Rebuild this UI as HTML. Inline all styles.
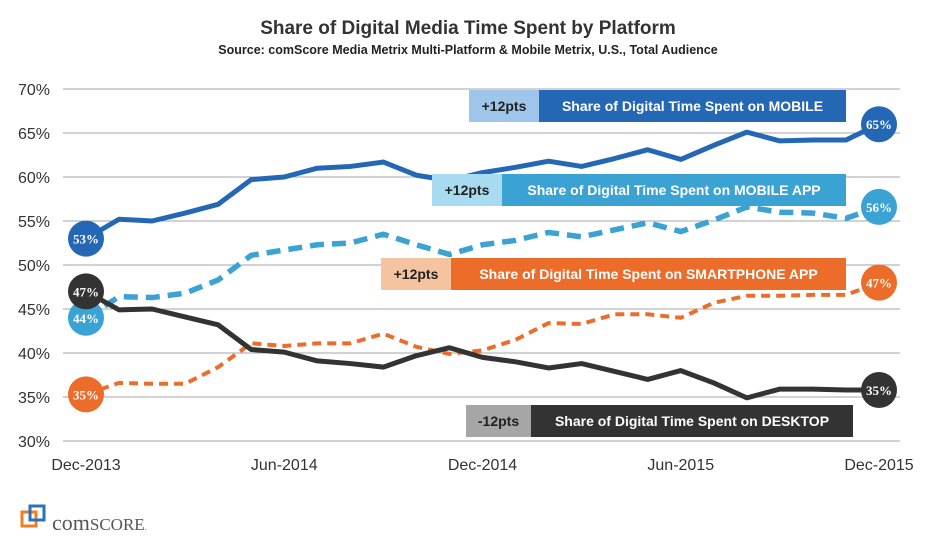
<!DOCTYPE html>
<html><head><meta charset="utf-8"><style>
body{margin:0;background:#fff;width:935px;height:538px;overflow:hidden;font-family:"Liberation Sans",Arial,sans-serif}
</style></head><body>
<svg id="chart" width="935" height="538" xmlns="http://www.w3.org/2000/svg" font-family="Liberation Sans, Arial, sans-serif">
<text x="468" y="34" text-anchor="middle" font-size="19" font-weight="bold" fill="#333">Share of Digital Media Time Spent by Platform</text>
<text x="468" y="54" text-anchor="middle" font-size="12.5" font-weight="bold" fill="#222">Source: comScore Media Metrix Multi-Platform &amp; Mobile Metrix, U.S., Total Audience</text>
<g id="grid"></g><g id="series"></g><g id="labels"></g>
<g>
<rect x="22" y="512" width="14" height="14" fill="none" stroke="#f07f24" stroke-width="3"/>
<rect x="30" y="506" width="14" height="14" fill="none" stroke="#2b73b7" stroke-width="3"/>
<text x="52" y="530" font-family="Liberation Serif, serif" font-size="22" fill="#555">com<tspan font-size="17">SCORE</tspan><tspan font-size="8">.</tspan></text>
</g>
</svg>
<script>
const months = ['Dec-2013','','','','','','Jun-2014','','','','','','Dec-2014','','','','','','Jun-2015','','','','','','Dec-2015'];
const yTicks = [30,35,40,45,50,55,60,65,70];
const mobile = [53,55.2,55.0,55.9,56.9,59.7,60.0,61.0,61.2,61.7,60.2,59.6,60.5,61.1,61.8,61.2,62.1,63.1,62.0,63.6,65.1,64.1,64.2,64.2,66];
const mobileApp = [44,46.4,46.3,46.8,48.3,51.1,51.7,52.3,52.5,53.5,52.3,51.2,52.3,52.8,53.7,53.2,54.0,54.8,53.8,55.1,56.6,56.0,55.9,55.3,56.6];
const smartphoneApp = [35.3,36.6,36.5,36.5,38.4,41.1,40.8,41.1,41.1,42.2,40.7,39.9,40.3,41.5,43.4,43.3,44.4,44.4,44.0,45.7,46.5,46.5,46.6,46.6,48];
const desktop = [47,44.9,45.0,44.1,43.2,40.4,40.1,39.1,38.8,38.4,39.7,40.6,39.5,39.0,38.3,38.8,37.9,37.0,38.0,36.6,34.9,35.9,35.9,35.8,35.8];
const startLabels = ['53%','44%','35%','47%'];
const endLabels = ['65%','56%','47%','35%'];

const NS='http://www.w3.org/2000/svg';
const X=i=>86+i*(879-86)/24;
const Y=v=>89+(70-v)*8.8;
function mk(tag,attrs,parent){const e=document.createElementNS(NS,tag);for(const k in attrs)e.setAttribute(k,attrs[k]);parent.appendChild(e);return e;}
const grid=document.getElementById('grid'),ser=document.getElementById('series'),lab=document.getElementById('labels');
yTicks.forEach(t=>{
  const l=mk('line',{x1:63,x2:900,y1:Y(t),y2:Y(t),stroke:'#a6a6a6','stroke-width':1},grid);
  
  
  const tx=mk('text',{x:50,y:Y(t)+6,'text-anchor':'end','font-size':16,fill:'#333'},grid);
  tx.textContent=t+'%';
  
  
});
months.forEach((m,i)=>{if(!m)return;
  const tx=mk('text',{x:X(i),y:470,'text-anchor':'middle','font-size':16,fill:'#333'},grid);
  tx.textContent=m;
  
  
});
const defs=[
 {d:mobileApp,c:'#3ba3d4',w:5.5,dash:'14 8',name:'mobile-app'},
 {d:smartphoneApp,c:'#ec6c2a',w:4,dash:'9 6',name:'smartphone-app'},
 {d:desktop,c:'#333333',w:5,dash:'',name:'desktop'},
 {d:mobile,c:'#2467b5',w:5,dash:'',name:'mobile'}];
defs.forEach(s=>{
  const p=mk('polyline',{points:s.d.map((v,i)=>X(i)+','+Y(v)).join(' '),fill:'none',stroke:s.c,'stroke-width':s.w,'stroke-dasharray':s.dash,'stroke-linejoin':'round'},ser);
  
  
});
const circ=[[mobile,'#2467b5',0],[mobileApp,'#3ba3d4',1],[smartphoneApp,'#ec6c2a',2],[desktop,'#333333',3]];
circ.forEach(([d,c,k])=>{
  [[0,startLabels[k]],[24,endLabels[k]]].forEach(([i,t])=>{
    const g=mk('g',{},ser);
    
    
    mk('circle',{cx:X(i),cy:Y(d[i]),r:18,fill:c},g);
    const tx=mk('text',{x:X(i),y:Y(d[i])+5,'text-anchor':'middle','font-size':13,'font-weight':'bold','font-family':'Liberation Serif, serif',fill:'#fff'},g);
    tx.textContent=t;
  });
});
const boxes=[
 [469,539,846,90,'#9ec6ea','#2467b5','+12pts','Share of Digital Time Spent on MOBILE','#222','mobile'],
 [432,502,846,174,'#a8daf0','#3ba3d4','+12pts','Share of Digital Time Spent on MOBILE APP','#222','mobile-app'],
 [381,451,846,258,'#f6c3a1','#ec6c2a','+12pts','Share of Digital Time Spent on SMARTPHONE APP','#222','smartphone-app'],
 [466,531,853,405,'#a6a6a6','#333333','-12pts','Share of Digital Time Spent on DESKTOP','#222','desktop']];
boxes.forEach(([x0,x1,x2,y,lc,dc,pts,txt,tc,n])=>{
  const g=mk('g',{},lab);
  
  
  mk('rect',{x:x0,y:y,width:x1-x0,height:32,fill:lc},g);
  mk('rect',{x:x1,y:y,width:x2-x1,height:32,fill:dc},g);
  const a=mk('text',{x:(x0+x1)/2,y:y+21,'text-anchor':'middle','font-size':14,'font-weight':'bold',fill:tc},g);a.textContent=pts;
  const b=mk('text',{x:(x1+x2)/2,y:y+21,'text-anchor':'middle','font-size':14,'font-weight':'bold',fill:'#fff'},g);b.textContent=txt;
});
</script>
</body></html>
